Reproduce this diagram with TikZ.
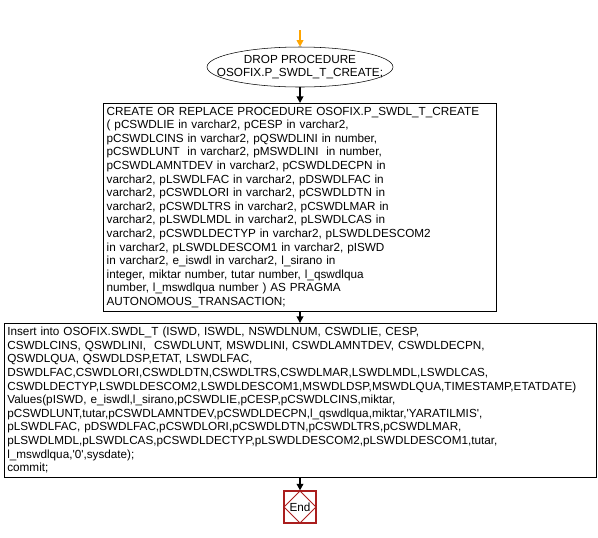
\documentclass[tikz,border=0pt]{standalone}
\usepackage{fontspec}
\setmainfont{Liberation Sans}
\usetikzlibrary{shapes.geometric, arrows.meta}
\definecolor{startorange}{RGB}{255,165,0}
\definecolor{endred}{RGB}{170,30,30}
\tikzset{
    dropnode/.style={draw, ellipse, minimum width=139.5pt, minimum height=30pt, inner xsep=-14pt, inner ysep=1pt, align=center},
    stmt/.style={draw, rectangle, anchor=north, align=left, inner xsep=2.5pt, inner ysep=2pt},
    endnode/.style={draw=endred, line width=0.9pt, rectangle, minimum size=24pt, inner sep=0pt,
        path picture={\draw[endred, line width=0.6pt] (path picture bounding box.north) -- (path picture bounding box.east)
            -- (path picture bounding box.south) -- (path picture bounding box.west) -- cycle;}},
    flow/.style={-{Triangle[width=5pt,length=5pt]}, line width=1.8pt},
    startflow/.style={flow, startorange} }

\begin{document}
\begin{tikzpicture}[x=0.75pt, y=-0.75pt, font=\fontsize{8.8}{10.2}\selectfont]
    \useasboundingbox (0,0) rectangle (598,537);
    \coordinate (start) at (300,30);
    \node[dropnode] (drop) at (300,67) {DROP PROCEDURE\\OSOFIX.P\_SWDL\_T\_CREATE;};
    \node[stmt, text width=290pt, minimum height=156pt] (create) at (300,103) {%
        CREATE OR REPLACE PROCEDURE OSOFIX.P\_SWDL\_T\_CREATE\\
        ( pCSWDLIE in varchar2, pCESP in varchar2,\\
        pCSWDLCINS in varchar2, pQSWDLINI in number,\\
        pCSWDLUNT\ \ in varchar2, pMSWDLINI\ \ in number,\\
        pCSWDLAMNTDEV in varchar2, pCSWDLDECPN in\\
        varchar2, pLSWDLFAC in varchar2, pDSWDLFAC in\\
        varchar2, pCSWDLORI in varchar2, pCSWDLDTN in\\
        varchar2, pCSWDLTRS in varchar2, pCSWDLMAR in\\
        varchar2, pLSWDLMDL in varchar2, pLSWDLCAS in\\
        varchar2, pCSWDLDECTYP in varchar2, pLSWDLDESCOM2\\
        in varchar2, pLSWDLDESCOM1 in varchar2, pISWD\\
        in varchar2, e\_iswdl in varchar2, l\_sirano in\\
        integer, miktar number, tutar number, l\_qswdlqua\\
        number, l\_mswdlqua number ) AS PRAGMA\\
        AUTONOMOUS\_TRANSACTION;};
    \node[stmt, text width=439pt, minimum height=115.5pt] (insert) at (300,323) {%
        Insert into OSOFIX.SWDL\_T (ISWD, ISWDL, NSWDLNUM, CSWDLIE, CESP,\\
        CSWDLCINS, QSWDLINI,\ \ CSWDLUNT, MSWDLINI, CSWDLAMNTDEV, CSWDLDECPN,\\
        QSWDLQUA, QSWDLDSP,ETAT, LSWDLFAC,\\
        DSWDLFAC,CSWDLORI,CSWDLDTN,CSWDLTRS,CSWDLMAR,LSWDLMDL,LSWDLCAS,\\
        CSWDLDECTYP,LSWDLDESCOM2,LSWDLDESCOM1,MSWDLDSP,MSWDLQUA,TIMESTAMP,ETATDATE)\\
        Values(pISWD, e\_iswdl,l\_sirano,pCSWDLIE,pCESP,pCSWDLCINS,miktar,\\
        pCSWDLUNT,tutar,pCSWDLAMNTDEV,pCSWDLDECPN,l\_qswdlqua,miktar,\textquotesingle YARATILMIS\textquotesingle,\\
        pLSWDLFAC, pDSWDLFAC,pCSWDLORI,pCSWDLDTN,pCSWDLTRS,pCSWDLMAR,\\
        pLSWDLMDL,pLSWDLCAS,pCSWDLDECTYP,pLSWDLDESCOM2,pLSWDLDESCOM1,tutar,\\
        l\_mswdlqua,\textquotesingle 0\textquotesingle,sysdate);\\
        commit;};
    \node[endnode] (end) at (300,507) {End};
    % ----
    \draw[startflow] (start) -- (drop);
    \draw[flow] (drop) -- (create);
    \draw[flow] (create) -- (insert);
    \draw[flow] (insert) -- (end);
\end{tikzpicture}
\end{document}
